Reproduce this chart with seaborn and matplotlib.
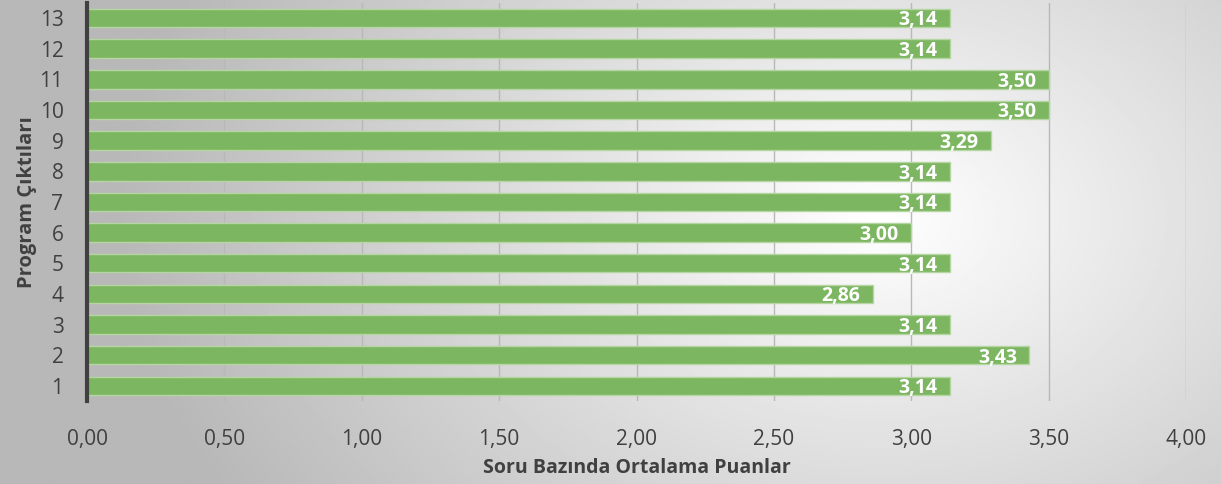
import numpy as np
import pandas as pd
import seaborn as sns
import matplotlib.pyplot as plt

# program outcomes and mean scores
programs = ['1', '2', '3', '4', '5', '6', '7', '8', '9', '10', '11', '12', '13']
scores = [3.14, 3.43, 3.14, 2.86, 3.14, 3.00, 3.14, 3.14, 3.29, 3.50, 3.50, 3.14, 3.14]
xticks = [0, 0.5, 1.0, 1.5, 2.0, 2.5, 3.0, 3.5, 4.0]

df = pd.DataFrame({'Program': programs, 'Puan': scores})
order = programs[::-1]

sns.set_theme(style="white")
plt.rcParams['font.family'] = ['Open Sans', 'DejaVu Sans']

fig = plt.figure(figsize=(12.21, 4.84), dpi=100)

# radial gradient background
bg = fig.add_axes([0, 0, 1, 1], zorder=0)
yy, xx = np.mgrid[0:1:300j, 0:1:600j]
r = np.sqrt(((xx - 0.72) * 1.6) ** 2 + ((yy - 0.55) * 0.9) ** 2)
bg.imshow(1 - 0.28 * np.clip(r, 0, 1), cmap='gray', vmin=0, vmax=1,
          extent=[0, 1, 0, 1], aspect='auto', origin='lower')
bg.axis('off')

ax = fig.add_axes([0.0713, 0.1709, 0.900, 0.8236], zorder=1)
ax.patch.set_alpha(0)
sns.barplot(data=df, x='Puan', y='Program', order=order, orient='h',
            color='#7cb661', saturation=1, width=0.6,
            edgecolor='#b5d6a2', linewidth=1, ax=ax, zorder=3)

ax.set_xlim(0, 4)
ax.set_ylim(12.5, -0.5)
ax.set_xticks(xticks)
ax.set_xticklabels([f"{v:.2f}".replace('.', ',') for v in xticks])
ax.grid(axis='x', color='#b8b8b8', linewidth=1, zorder=0)
ax.set_axisbelow(True)
for s in ['top', 'right', 'bottom']:
    ax.spines[s].set_visible(False)
ax.spines['left'].set_color('#404040')
ax.spines['left'].set_linewidth(3)
ax.spines['left'].set_zorder(5)
ax.tick_params(axis='both', length=0, labelsize=15, colors='#404040')
ax.tick_params(axis='x', pad=20)
ax.tick_params(axis='y', pad=17)

for i, p in enumerate(order):
    v = scores[programs.index(p)]
    ax.text(v - 0.045, i + 0.08, f"{v:.2f}".replace('.', ','), ha='right', va='center',
            color='white', fontsize=14, fontweight='bold', zorder=6)

ax.set_xlabel('Soru Bazında Ortalama Puanlar', fontsize=14, fontweight='bold',
              color='#404040', labelpad=6)
ax.set_ylabel('Program Çıktıları', fontsize=14.5, fontweight='bold',
              color='#404040', labelpad=2)

fig.savefig('out.png', dpi=100)
